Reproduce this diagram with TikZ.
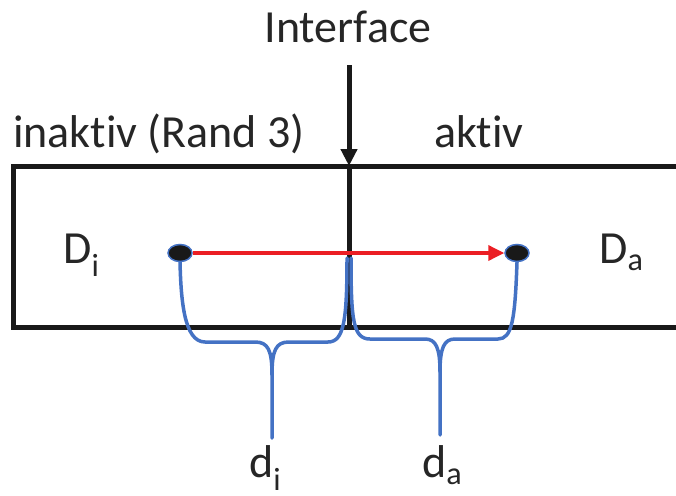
\documentclass[tikz,border=0pt]{standalone}
\usepackage{fontspec}
\setmainfont{Carlito}[Ligatures={NoCommon,NoContextual}]
\usetikzlibrary{arrows.meta,shapes.geometric}
\definecolor{brblue}{RGB}{68,114,196}
\definecolor{arred}{RGB}{235,30,36}
\newcommand{\bigf}{\fontsize{46}{55}\selectfont}
\begin{document}
\begin{tikzpicture}[x=1pt,y=-1pt,
  lbl/.style={inner sep=0pt,font=\bigf,text=black!85},
  frame/.style={line width=5pt,black!90},
  brace/.style={line width=3.5pt,brblue,line cap=round,line join=round},
  dot/.style={ellipse,fill=black!90,draw=brblue,line width=1.5pt,minimum width=24pt,minimum height=17pt,inner sep=0pt},
  flow/.style={line width=3.5pt,arred,-{Triangle[length=16pt,width=15pt]}},
  iface/.style={line width=5pt,black!90,-{Triangle[length=17pt,width=16pt]}}]
\useasboundingbox (0,0) rectangle (676,495);
% frame
\draw[frame] (676,166) -- (13,166) -- (13,327) -- (676,327);
% interface
\coordinate (itop) at (349,65);
\coordinate (ihit) at (349,166);
\coordinate (ibot) at (349,327);
\draw[frame] (ihit) -- (ibot);
\draw[iface] (itop) -- (ihit);
% labels
\node[lbl,anchor=base] (tif) at (348,43) {Interface};
\node[lbl,anchor=base west] (tin) at (13,147) {inaktiv (Rand 3)};
\node[lbl,anchor=base west] (tak) at (434,147) {aktiv};
\node[lbl,anchor=base west] (tDi) at (63,263) {D\textsubscript{i}};
\node[lbl,anchor=base west] (tDa) at (599,263) {D\textsubscript{a}};
\node[lbl,anchor=base west] (tdi) at (249,477) {d\textsubscript{i}};
\node[lbl,anchor=base west] (tda) at (422,477) {d\textsubscript{a}};
% dots
\node[dot] (dI) at (180,253) {};
\node[dot] (dA) at (517,253) {};
% braces
\coordinate (iL) at (347,258);
\coordinate (iR) at (351,258);
\draw[brace] (dI.south) .. controls (181,300) and (184,342) .. (205,342) -- (255,342)
  .. controls (268,342) and (272,350) .. (272,375) -- (272,438);
\draw[brace] (272,375) .. controls (272,350) and (276,342) .. (289,342) -- (328,342)
  .. controls (344,342) and (347,320) .. (iL);
\draw[brace] (iR) .. controls (351,320) and (353,339) .. (370,339) -- (425,339)
  .. controls (436,339) and (440,348) .. (440,372) -- (440,435);
\draw[brace] (440,372) .. controls (440,348) and (444,339) .. (455,339) -- (498,339)
  .. controls (512,339) and (515,320) .. (dA.south);
% red arrow
\draw[flow] (dI.east) -- (dA.west);
\end{tikzpicture}
\end{document}
